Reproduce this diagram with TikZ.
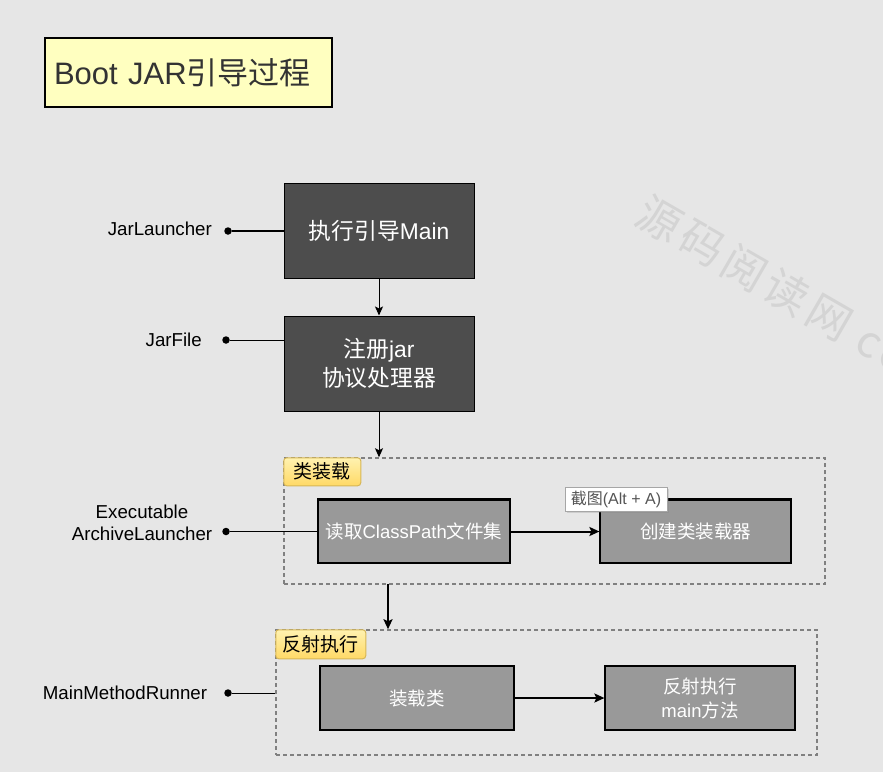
\documentclass[tikz,border=0pt]{standalone}
\usepackage{fontspec}
\setmainfont{Liberation Sans}
\newfontfamily\cjk{Noto Sans CJK SC}
\newfontfamily\wmfont[LetterSpace=11]{Noto Sans CJK SC}
\newcommand\zh[1]{{\cjk #1}}
\usetikzlibrary{arrows.meta,shadows}
\definecolor{bgc}{HTML}{E6E6E6}
\definecolor{darkfill}{HTML}{4D4D4D}
\definecolor{grayfill}{HTML}{999999}
\definecolor{groupline}{HTML}{808080}
\definecolor{tagline}{HTML}{D6B656}
\definecolor{tagtop}{HTML}{FFF2B0}
\definecolor{tagbot}{HTML}{FFD966}
\definecolor{titlefill}{HTML}{FFFFC0}
\definecolor{wmark}{HTML}{D4D4D4}
\definecolor{titletext}{HTML}{333333}
\definecolor{tiptext}{HTML}{555555}
\tikzset{
 darkbox/.style={draw=black, line width=1pt, fill=darkfill, text=white, font=\fontsize{22.8}{29}\selectfont, align=center, minimum width=190pt, minimum height=95pt, inner sep=0pt},
 graybox/.style={draw=black, line width=1.2pt, fill=grayfill, text=white, font=\fontsize{18.5}{24}\selectfont, align=center, inner sep=0pt},
 grouprect/.style={draw=groupline, line width=1.5pt, dash pattern=on 4pt off 3pt, inner sep=0pt},
 tagbox/.style={draw=tagline, line width=1pt, rounded corners=3pt, top color=tagtop, bottom color=tagbot, font=\fontsize{19}{23}\selectfont, inner sep=0pt, anchor=north west},
 sidelabel/.style={font=\fontsize{18.7}{22}\selectfont, align=center, inner sep=0pt},
 dotnode/.style={circle, fill=black, minimum size=7.5pt, inner sep=0pt},
 thinarrow/.style={-{Stealth[length=9pt,width=8pt,inset=2pt]}, line width=1pt},
 thickarrow/.style={-{Stealth[length=10pt,width=9pt,inset=2pt]}, line width=2pt},
}
\begin{document}
\begin{tikzpicture}[x=1pt,y=-1pt]
\fill[bgc] (0,0) rectangle (883,772);
\useasboundingbox (0,0) rectangle (883,772);

% watermark
\node[anchor=west, rotate=-30, text=wmark, font=\fontsize{44}{50}\wmfont, inner sep=0pt] (wm) at (641,208) {源码阅读网 co};

% title
\node[draw=black, line width=1.5pt, fill=titlefill, minimum height=69pt, text width=269pt, inner xsep=9pt, inner ysep=0pt, align=left, text=titletext, font=\fontsize{31}{36}\selectfont] (title) at (188.5,72.5) {Boot JAR\zh{引导过程}};

% main boxes
\node[darkbox] (box1) at (379,230.5) {\zh{执行引导}Main};
\node[darkbox] (box2) at (379,363.5) {\zh{注册}jar\\\zh{协议处理器}};

% groups
\node[grouprect, minimum width=541pt, minimum height=126pt] (g1) at (554.5,521) {};
\node[grouprect, minimum width=541pt, minimum height=125pt] (g2) at (546.5,692.5) {};
\node[tagbox, minimum width=77pt, minimum height=28pt] (tag1) at (g1.north west) {\zh{类装载}};
\node[tagbox, minimum width=90pt, minimum height=29pt] (tag2) at (g2.north west) {\zh{反射执行}};

% gray boxes
\node[graybox, minimum width=192pt, minimum height=63pt] (boxa) at (414,531.5) {\zh{读取}ClassPath\zh{文件集}};
\node[graybox, minimum width=191pt, minimum height=63pt] (boxb) at (695.5,531.5) {\zh{创建类装载器}};
\draw[line width=2.6pt] (boxa.north west) -- (boxa.north east);
\draw[line width=2.6pt] (boxb.north west) -- (boxb.north east);
\node[graybox, minimum width=194pt, minimum height=64pt] (boxc) at (417,698) {\zh{装载类}};
\node[graybox, minimum width=190pt, minimum height=64pt] (boxd) at (700,698) {\zh{反射执行}\\main\zh{方法}};

% tooltip
\node[draw=gray!70, line width=0.8pt, fill=white, drop shadow={opacity=0.25, shadow xshift=2pt, shadow yshift=-2pt}, minimum width=102pt, minimum height=24pt, inner sep=0pt, text=tiptext, font=\fontsize{16}{19}\selectfont] (tip) at (616,499) {\zh{截图}(Alt + A)};

% flow arrows
\draw[thinarrow] (box1.south) -- (box2.north);
\draw[thinarrow] (box2.south) -- (box2.south |- g1.north);
\coordinate (g1out) at (388,584);
\draw[thickarrow] (g1out) -- (g1out |- g2.north);
\draw[thickarrow] (boxa.east) -- (boxb.west);
\draw[thickarrow] (boxc.east) -- (boxd.west);

% side labels
\node[sidelabel, anchor=east] (jl) at (212,229) {JarLauncher};
\node[dotnode] (jld) at (228,231) {};
\draw[line width=2pt] (jld) -- (jld -| box1.west);

\node[sidelabel, anchor=east] (jf) at (202,340) {JarFile};
\node[dotnode] (jfd) at (226,340) {};
\draw[line width=1pt] (jfd) -- (jfd -| box2.west);

\node[sidelabel] (eal) at (142,523) {Executable\\ArchiveLauncher};
\node[dotnode] (eald) at (226,531.5) {};
\draw[line width=1.5pt] (eald) -- (boxa.west);

\node[sidelabel] (mmr) at (125,693) {MainMethodRunner};
\node[dotnode] (mmrd) at (228,693) {};
\draw[line width=1pt] (mmrd) -- (mmrd -| g2.west);
\end{tikzpicture}
\end{document}
